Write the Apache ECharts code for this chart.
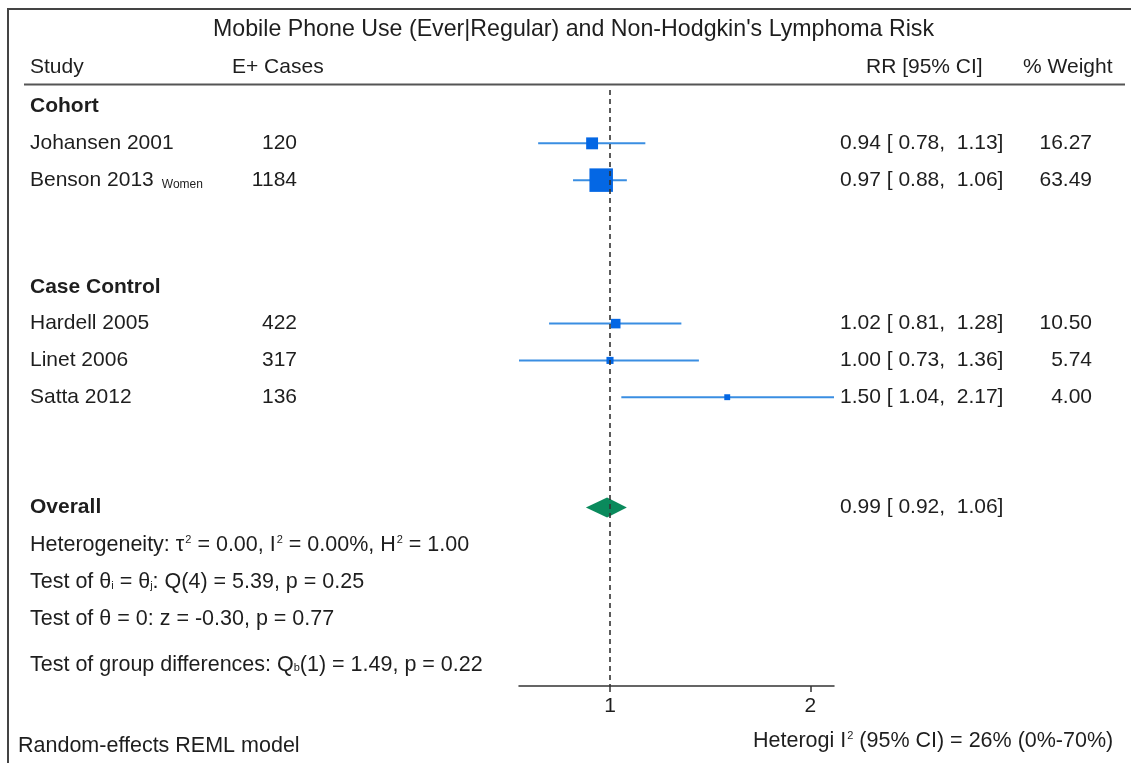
<!DOCTYPE html>
<html>
<head>
<meta charset="utf-8">
<script src="https://cdn.jsdelivr.net/npm/echarts@6/dist/echarts.min.js"></script>
<style>
  html, body { margin: 0; padding: 0; background: #fff; }
  #chart { width: 1131px; height: 763px; }
</style>
</head>
<body>
<div id="chart"></div>
<script>
// ---- Data ----
const title = "Mobile Phone Use (Ever|Regular) and Non-Hodgkin's Lymphoma Risk";
const groups = ['Cohort', 'Case Control'];
const studyGroup = [0, 0, 1, 1, 1];
const studies = ['Johansen 2001', 'Benson 2013', 'Hardell 2005', 'Linet 2006', 'Satta 2012'];
const studyNotes = ['', 'Women', '', '', ''];
const cases = [120, 1184, 422, 317, 136];
const rr = [0.94, 0.97, 1.02, 1.00, 1.50];
const ciLow = [0.78, 0.88, 0.81, 0.73, 1.04];
const ciHigh = [1.13, 1.06, 1.28, 1.36, 2.17];
const weights = [16.27, 63.49, 10.50, 5.74, 4.00];
const overall = [0.99, 0.92, 1.06]; // estimate, lower, upper
const xTicks = [1, 2];

// ---- Layout ----
const FONT = "'Liberation Sans', Arial, sans-serif";
const TXT = '#1e1e1e';
const FS = 21;          // table text
const FS_STAT = 21.5;   // statistics and footer lines
const FS_TITLE = 23.2;
const GRID = { left: 519, right: 297, top: 90, bottom: 77 };
const Y_MAX = 16.2;                      // row slots spanned by the plot region
const GROUP_SLOT = [0.45, 5.35];         // group headings
const STUDY_SLOT = [1.45, 2.45, 6.35, 7.35, 8.35];
const OVERALL_SLOT = 11.35;
const STAT_SLOTS = [12.38, 13.38, 14.38, 15.62];
const MARKER_SCALE = 2.95;               // square side = scale * sqrt(weight)
const COL = { name: 30, cases: 297, casesHead: 232, rr: 840, rrHead: 866, wt: 1092, wtHead: 1023 };

const fmt2 = v => v.toFixed(2);
const ciText = (e, l, h) => fmt2(e) + ' [ ' + fmt2(l) + ',  ' + fmt2(h) + ']';

const chart = echarts.init(document.getElementById('chart'), null, { renderer: 'canvas' });

const studyData = studies.map((s, i) => [ciLow[i], ciHigh[i], rr[i], STUDY_SLOT[i], weights[i]]);

chart.setOption({
  animation: false,
  backgroundColor: '#fff',
  grid: GRID,
  xAxis: {
    type: 'log',
    logBase: 2,
    position: 'bottom',
    min: Math.min(...ciLow),
    max: Math.max(...ciHigh),
    splitLine: { show: false },
    axisLine: { show: true, onZero: false, lineStyle: { color: '#333', width: 1.5 } },
    axisTick: { show: true, length: 6, customValues: xTicks, lineStyle: { color: '#333', width: 1.5 } },
    axisLabel: { customValues: xTicks, color: TXT, fontSize: FS, fontFamily: FONT, margin: 10,
                 formatter: v => String(v) },
    minorTick: { show: false }
  },
  yAxis: { type: 'value', inverse: true, min: 0, max: Y_MAX, show: false },
  series: [
    {
      type: 'custom',
      name: 'studies',
      clip: false,
      data: studyData,
      encode: { x: [0, 1, 2], y: 3 },
      renderItem(params, api) {
        const y = api.value(3);
        const a = api.coord([api.value(0), y]);
        const b = api.coord([api.value(1), y]);
        const c = api.coord([api.value(2), y]);
        const s = MARKER_SCALE * Math.sqrt(api.value(4));
        return {
          type: 'group',
          children: [
            { type: 'line', shape: { x1: a[0], y1: a[1], x2: b[0], y2: b[1] },
              style: { stroke: '#3a8ee2', lineWidth: 2 } },
            { type: 'rect', shape: { x: c[0] - s / 2, y: c[1] - s / 2, width: s, height: s },
              style: { fill: '#0467e4' } }
          ]
        };
      },
      markLine: {
        silent: true,
        symbol: ['none', 'none'],
        label: { show: false },
        lineStyle: { color: '#333', type: [5, 4], width: 1.6 },
        data: [{ xAxis: 1 }]
      },
      z: 3
    },
    {
      type: 'custom',
      name: 'overall',
      clip: false,
      data: [[overall[1], overall[2], overall[0], OVERALL_SLOT]],
      encode: { x: [0, 1, 2], y: 3 },
      renderItem(params, api) {
        const y = api.value(3);
        const l = api.coord([api.value(0), y]);
        const h = api.coord([api.value(1), y]);
        const e = api.coord([api.value(2), y]);
        const hh = 10;
        return {
          type: 'polygon',
          shape: { points: [[l[0], l[1]], [e[0], e[1] - hh], [h[0], h[1]], [e[0], e[1] + hh]] },
          style: { fill: '#0a8a5c' }
        };
      },
      z: 4
    }
  ]
});

// ---- Table text, placed on the same row scale as the marks ----
const yPix = slot => chart.convertToPixel({ yAxisIndex: 0 }, slot);
const txt = (x, y, text, opt = {}) => ({
  type: 'text', x, y, silent: true,
  style: Object.assign({ text, fill: TXT, font: FS + 'px ' + FONT, textAlign: 'left', textVerticalAlign: 'middle' }, opt)
});

const g = [];
// frame
g.push({ type: 'line', shape: { x1: 8, y1: 9, x2: 1131, y2: 9 }, style: { stroke: '#444', lineWidth: 2 } });
g.push({ type: 'line', shape: { x1: 8, y1: 8, x2: 8, y2: 763 }, style: { stroke: '#444', lineWidth: 2 } });
// header
g.push(txt(213, 30, title, { font: FS_TITLE + 'px ' + FONT }));
g.push(txt(COL.name, 67, 'Study'));
g.push(txt(COL.casesHead, 67, 'E+ Cases'));
g.push(txt(COL.rrHead, 67, 'RR [95% CI]'));
g.push(txt(COL.wtHead, 67, '% Weight'));
g.push({ type: 'line', shape: { x1: 24, y1: 84.5, x2: 1125, y2: 84.5 }, style: { stroke: '#555', lineWidth: 2 } });

groups.forEach((name, k) => {
  g.push(txt(COL.name, yPix(GROUP_SLOT[k]), name, { font: 'bold ' + FS + 'px ' + FONT }));
});

studies.forEach((name, i) => {
  const y = yPix(STUDY_SLOT[i]);
  if (studyNotes[i]) {
    g.push({
      type: 'text', x: COL.name, y, silent: true,
      style: {
        text: '{n|' + name + '}{s|' + studyNotes[i] + '}',
        textVerticalAlign: 'middle',
        rich: {
          n: { fontSize: FS, fontFamily: FONT, fill: TXT, lineHeight: 24, verticalAlign: 'middle' },
          s: { fontSize: 12, fontFamily: FONT, fill: TXT, lineHeight: 24, verticalAlign: 'bottom', padding: [0, 0, 1, 8] }
        }
      }
    });
  } else {
    g.push(txt(COL.name, y, name));
  }
  g.push(txt(COL.cases, y, String(cases[i]), { textAlign: 'right' }));
  g.push(txt(COL.rr, y, ciText(rr[i], ciLow[i], ciHigh[i])));
  g.push(txt(COL.wt, y, fmt2(weights[i]), { textAlign: 'right' }));
});

g.push(txt(COL.name, yPix(OVERALL_SLOT), 'Overall', { font: 'bold ' + FS + 'px ' + FONT }));
g.push(txt(COL.rr, yPix(OVERALL_SLOT), ciText(overall[0], overall[1], overall[2])));

const richBase = {
  m: { fontSize: FS_STAT, fontFamily: FONT, fill: TXT, lineHeight: 26, verticalAlign: 'middle' },
  sup: { fontSize: 11, fontFamily: FONT, fill: TXT, lineHeight: 26, verticalAlign: 'top', padding: [2, 0, 0, 1] },
  sub: { fontSize: 11, fontFamily: FONT, fill: TXT, lineHeight: 26, verticalAlign: 'bottom', padding: [0, 0, 4, 0] }
};
const statLines = [
  '{m|Heterogeneity: τ}{sup|2}{m| = 0.00, I}{sup|2}{m| = 0.00%, H}{sup|2}{m| = 1.00}',
  '{m|Test of θ}{sub|i}{m| = θ}{sub|j}{m|: Q(4) = 5.39, p = 0.25}',
  '{m|Test of θ = 0: z = -0.30, p = 0.77}',
  '{m|Test of group differences: Q}{sub|b}{m|(1) = 1.49, p = 0.22}'
];
statLines.forEach((line, k) => {
  g.push({
    type: 'text', x: COL.name, y: yPix(STAT_SLOTS[k]), silent: true,
    style: { text: line, textVerticalAlign: 'middle', rich: richBase }
  });
});

// footer notes
g.push(txt(18, 746, 'Random-effects REML model', { font: FS_STAT + 'px ' + FONT }));
g.push({
  type: 'text', x: 753, y: 741, silent: true,
  style: { text: '{m|Heterogi I}{sup|2}{m| (95% CI) = 26% (0%-70%)}', textVerticalAlign: 'middle', rich: richBase }
});

chart.setOption({ graphic: { elements: g } });
</script>
</body>
</html>
